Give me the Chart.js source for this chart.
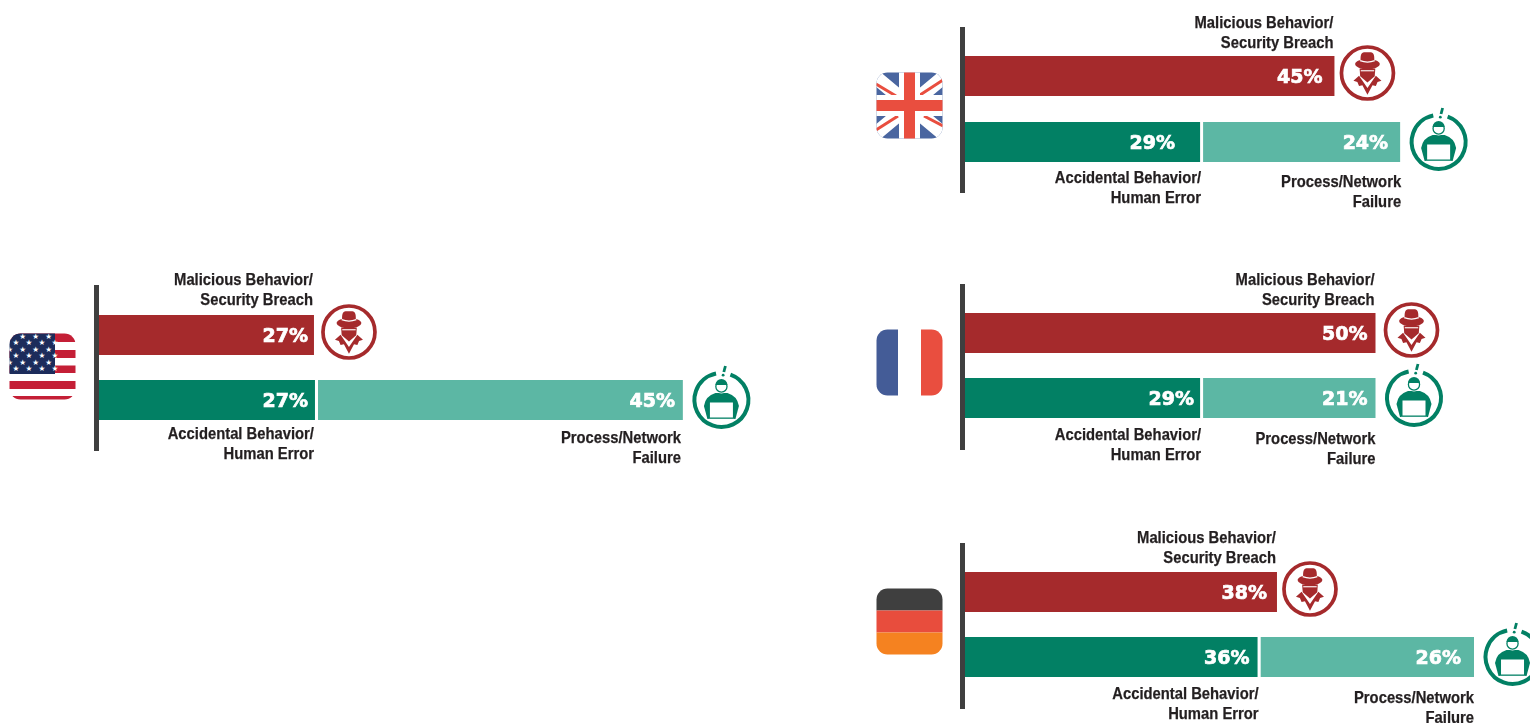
<!DOCTYPE html>
<html>
<head>
<meta charset="utf-8">
<title>Root cause of data breach by country</title>
<script src="https://cdn.jsdelivr.net/npm/chart.js@4"></script>
<style>
    html, body { margin: 0; padding: 0; background: #fff; overflow: hidden; width: 1530px; height: 723px; }
    #page { position: relative; width: 1530px; height: 723px; overflow: hidden; }
    canvas, svg { position: absolute; }
</style>
</head>
<body>
<div id="page"></div>
<script>
// Values
const countries = ['United States', 'United Kingdom', 'France', 'Germany'];
const categories = ['Malicious', 'Human and process'];
const maliciousValues = [27, 45, 50, 38];
const accidentalValues = [27, 29, 29, 36];
const processValues = [45, 24, 21, 26];
const maliciousLabel = ['Malicious Behavior/', 'Security Breach'];
const accidentalLabel = ['Accidental Behavior/', 'Human Error'];
const processLabel = ['Process/Network', 'Failure'];

// Where each panel sits on the page. The source graphic is hand placed, so
// the captions and percent labels do not sit at the same offset in each panel.
const panels = [
    { left: 84, top: 265, width: 680, axisMax: 72, pxPerUnit: 8.11, areaTop: 302.5, band: 65, axisTop: 285, axisBottom: 451, redInset: 4,
      malDy: -55, accDy: 14.5, procDy: 18, accDx: 1, procDx: 2, pctRed: 6, pctGreen: 7, pctLight: 8, spyDx: 35 },
    { left: 950, top: 7, width: 580, axisMax: 62, pxPerUnit: 8.21, areaTop: 43, band: 66, axisTop: 27, axisBottom: 193, redInset: 0,
      malDy: -53, accDy: 16.5, procDy: 20, accDx: -1, procDx: -1, pctRed: 12, pctGreen: 25, pctLight: 12, spyDx: 33 },
    { left: 950, top: 264, width: 580, axisMax: 62, pxPerUnit: 8.21, areaTop: 300.5, band: 65, axisTop: 284, axisBottom: 450, redInset: 0,
      malDy: -53, accDy: 17.5, procDy: 21, accDx: -1, procDx: 0, pctRed: 8, pctGreen: 6, pctLight: 8, spyDx: 36 },
    { left: 950, top: 523, width: 580, axisMax: 62, pxPerUnit: 8.21, areaTop: 559.5, band: 65, axisTop: 543, axisBottom: 709, redInset: 0,
      malDy: -53.5, accDy: 17.5, procDy: 21, accDx: -1, procDx: 0, pctRed: 10, pctGreen: 8, pctLight: 13, spyDx: 33 }
];

const RED = '#a52a2c';
const GREEN = '#028064';
const LIGHT = '#5cb7a4';
const AXIS = '#3f3f3f';
const TEXT = '#231f20';
const CANVAS_HEIGHT = 210;
const page = document.getElementById('page');

// ICONS, drawn around the end of each bar
function drawSpy(ctx, cx, cy) {
    ctx.save();
    ctx.translate(cx, cy);
    ctx.strokeStyle = RED;
    ctx.fillStyle = RED;
    ctx.lineWidth = 3.7;
    ctx.beginPath();
    ctx.arc(0, 0, 26, 0, Math.PI * 2);
    ctx.stroke();
    ctx.scale(1.12, 1.12);
    // hat
    ctx.beginPath();
    ctx.moveTo(-6, -10);
    ctx.bezierCurveTo(-7, -20, -3, -18.5, 0, -18.5);
    ctx.bezierCurveTo(3, -18.5, 7, -20, 6, -10);
    ctx.closePath();
    ctx.fill();
    ctx.beginPath();
    ctx.ellipse(0, -8, 11, 4.6, 0, 0, Math.PI * 2);
    ctx.fill();
    ctx.strokeStyle = '#fff';
    ctx.lineWidth = 1.1;
    ctx.beginPath();
    ctx.moveTo(-6.5, -11);
    ctx.quadraticCurveTo(0, -8.5, 6.5, -11);
    ctx.stroke();
    // face and mask
    ctx.beginPath();
    ctx.moveTo(-7, -4);
    ctx.lineTo(7, -4);
    ctx.lineTo(6.5, 3);
    ctx.lineTo(0, 8.5);
    ctx.lineTo(-6.5, 3);
    ctx.closePath();
    ctx.fill();
    ctx.lineWidth = 1;
    ctx.beginPath();
    ctx.moveTo(-6, -2);
    ctx.lineTo(6, -2);
    ctx.stroke();
    // coat
    ctx.beginPath();
    ctx.moveTo(-12.5, 7);
    ctx.lineTo(-7.5, 2.5);
    ctx.lineTo(0, 13.5);
    ctx.lineTo(7.5, 2.5);
    ctx.lineTo(12.5, 7);
    ctx.lineTo(9, 8);
    ctx.lineTo(7.5, 11.5);
    ctx.lineTo(4.5, 11);
    ctx.lineTo(0, 19.5);
    ctx.lineTo(-4.5, 11);
    ctx.lineTo(-7.5, 11.5);
    ctx.lineTo(-9, 8);
    ctx.closePath();
    ctx.fill();
    ctx.restore();
}

function drawWorker(ctx, cx, cy) {
    ctx.save();
    ctx.translate(cx, cy);
    ctx.strokeStyle = GREEN;
    ctx.fillStyle = GREEN;
    ctx.lineWidth = 4;
    // ring with a gap at the top for the exclamation mark
    ctx.beginPath();
    ctx.arc(0, 0, 27, -Math.PI / 2 + 0.34, -Math.PI / 2 - 0.2);
    ctx.stroke();
    // exclamation mark
    ctx.lineWidth = 2.8;
    ctx.beginPath();
    ctx.moveTo(4, -34);
    ctx.lineTo(2.4, -28);
    ctx.stroke();
    ctx.beginPath();
    ctx.arc(1.7, -24.8, 1.4, 0, Math.PI * 2);
    ctx.fill();
    // body
    ctx.beginPath();
    ctx.moveTo(-17.5, 6);
    ctx.quadraticCurveTo(-16, -4, -6, -7);
    ctx.lineTo(6, -7);
    ctx.quadraticCurveTo(16, -4, 17.5, 6);
    ctx.lineTo(14, 19);
    ctx.lineTo(-14, 19);
    ctx.closePath();
    ctx.fill();
    // head
    ctx.fillStyle = '#fff';
    ctx.beginPath();
    ctx.arc(0, -13.5, 7, 0, Math.PI * 2);
    ctx.fill();
    ctx.fillStyle = GREEN;
    ctx.lineWidth = 1.3;
    ctx.beginPath();
    ctx.arc(0, -13.5, 5.6, 0, Math.PI * 2);
    ctx.stroke();
    ctx.beginPath();
    ctx.arc(0, -15, 6, Math.PI, 0);
    ctx.fill();
    // laptop
    ctx.fillStyle = '#fff';
    ctx.fillRect(-11.5, 2.5, 23, 15);
    ctx.fillRect(-13, 18.8, 26, 2.2);
    ctx.restore();
}

function drawLabel(ctx, lines, x, firstCenterY) {
    ctx.save();
    ctx.font = 'bold 17px "Liberation Sans", sans-serif';
    ctx.fillStyle = TEXT;
    ctx.strokeStyle = TEXT;
    ctx.lineWidth = 0.25;
    ctx.textAlign = 'right';
    ctx.textBaseline = 'middle';
    ctx.translate(x, firstCenterY);
    // the source face is a condensed one, which is not installed here
    ctx.scale(0.87, 1);
    lines.forEach(function (line, i) {
        ctx.fillText(line, 0, i * 20);
        ctx.strokeText(line, 0, i * 20);
    });
    ctx.restore();
}

function drawPercent(ctx, value, x, y) {
    ctx.font = 'bold 19px "DejaVu Sans", sans-serif';
    ctx.fillStyle = '#fff';
    ctx.strokeStyle = '#fff';
    ctx.lineWidth = 0.7;
    ctx.textAlign = 'right';
    ctx.textBaseline = 'middle';
    ctx.fillText(value + '%', x, y);
    ctx.strokeText(value + '%', x, y);
}

// Axis rule, captions, percent labels and icons for one panel
const panelPlugin = {
    id: 'panelPlugin',
    beforeDatasetsDraw: function (chart) {
        const p = chart.options.plugins.panelPlugin;
        const ctx = chart.ctx;
        ctx.fillStyle = AXIS;
        ctx.fillRect(chart.chartArea.left - 5, p.axisTop - p.top, 5, p.axisBottom - p.axisTop);
    },
    afterDatasetsDraw: function (chart) {
        const p = chart.options.plugins.panelPlugin;
        const i = p.index;
        const ctx = chart.ctx;
        const x = chart.scales.x;
        const yTop = chart.scales.y.getPixelForValue(0);
        const yBottom = chart.scales.y.getPixelForValue(1);
        const redEnd = x.getPixelForValue(maliciousValues[i]) - p.redInset;
        const greenEnd = x.getPixelForValue(accidentalValues[i]) - 3;
        const lightEnd = x.getPixelForValue(accidentalValues[i] + processValues[i]);

        drawPercent(ctx, maliciousValues[i], redEnd - p.pctRed, yTop + 2);
        drawPercent(ctx, accidentalValues[i], greenEnd - p.pctGreen, yBottom + 2);
        drawPercent(ctx, processValues[i], lightEnd - p.pctLight, yBottom + 2);

        drawLabel(ctx, maliciousLabel, redEnd - 1, yTop + p.malDy);
        drawLabel(ctx, accidentalLabel, greenEnd - p.accDx, yBottom + 20 + p.accDy);
        drawLabel(ctx, processLabel, lightEnd - p.procDx, yBottom + 20 + p.procDy);

        drawSpy(ctx, redEnd + p.spyDx, yTop - 3);
        drawWorker(ctx, lightEnd + 38.5, yBottom);
    }
};

// CHARTS
countries.forEach(function (country, i) {
    const p = panels[i];
    const canvas = document.createElement('canvas');
    canvas.width = p.width;
    canvas.height = CANVAS_HEIGHT;
    canvas.style.left = p.left + 'px';
    canvas.style.top = p.top + 'px';
    canvas.setAttribute('aria-label', country);
    page.appendChild(canvas);

    const areaWidth = p.axisMax * p.pxPerUnit;
    new Chart(canvas, {
        type: 'bar',
        data: {
            labels: categories,
            datasets: [
                { label: 'Malicious Behavior/Security Breach', data: [maliciousValues[i], null], backgroundColor: RED,
                  borderColor: '#fff', borderWidth: { right: p.redInset }, inflateAmount: 0 },
                { label: 'Accidental Behavior/Human Error', data: [null, accidentalValues[i]], backgroundColor: GREEN,
                  borderColor: '#fff', borderWidth: { right: 3 }, inflateAmount: 0 },
                { label: 'Process/Network Failure', data: [null, processValues[i]], backgroundColor: LIGHT,
                  borderWidth: 0, inflateAmount: 0 }
            ]
        },
        options: {
            indexAxis: 'y',
            responsive: false,
            animation: false,
            barThickness: 40,
            layout: {
                padding: {
                    left: 15,
                    right: p.width - 15 - areaWidth,
                    top: p.areaTop - p.top,
                    bottom: CANVAS_HEIGHT - (p.areaTop - p.top) - 2 * p.band
                }
            },
            scales: {
                x: { display: false, stacked: true, min: 0, max: p.axisMax },
                y: { display: false, stacked: true }
            },
            plugins: {
                legend: { display: false },
                tooltip: { enabled: false },
                panelPlugin: Object.assign({ index: i }, p)
            }
        },
        plugins: [panelPlugin]
    });
});

// FLAGS
function addFlag(x, y, inner) {
    const id = 'clip' + Math.round(x) + Math.round(y);
    page.insertAdjacentHTML('beforeend',
        '<svg style="left:' + x + 'px;top:' + y + 'px" width="67" height="67" viewBox="0 0 67 67">' +
        '<clipPath id="' + id + '"><rect x="0.5" y="0.5" width="66" height="66" rx="11"/></clipPath>' +
        '<g clip-path="url(#' + id + ')">' + inner + '</g></svg>');
}

function usFlag() {
    let s = '<rect width="67" height="67" fill="#fff"/>';
    [[0, 9], [17, 8], [32.5, 7.5], [48, 8], [63, 4]].forEach(function (st) {
        s += '<rect y="' + st[0] + '" width="67" height="' + st[1] + '" fill="#c41f36"/>';
    });
    s += '<rect width="46" height="41" fill="#1c2c5b"/>';
    for (let row = 0; row < 6; row++) {
        for (let col = 0; col < 4; col++) {
            const sx = (row % 2 ? 7 : 0.7) + col * 13;
            const sy = 3 + row * 6.5;
            s += '<text x="' + sx + '" y="' + (sy + 2.6) + '" font-size="7.6" text-anchor="middle" fill="#fff" font-family="DejaVu Sans">\u2605</text>';
        }
    }
    return s;
}

addFlag(9, 333, usFlag());
addFlag(875.5, 72,
    '<rect width="67" height="67" fill="#4a66a0"/>' +
    '<path d="M-3,3 L70,64 M70,3 L-3,64" stroke="#fff" stroke-width="14"/>' +
    '<path d="M0,12 L20,24 M67,8 L44,23 M0,58 L22,44 M67,54 L48,44" stroke="#e94e3f" stroke-width="3"/>' +
    '<rect x="23" width="21" height="67" fill="#fff"/><rect y="23" width="67" height="21" fill="#fff"/>' +
    '<rect x="28" width="11" height="67" fill="#e94e3f"/><rect y="28" width="67" height="11" fill="#e94e3f"/>');
addFlag(875.5, 329,
    '<rect width="22" height="67" fill="#445c97"/><rect x="22" width="23" height="67" fill="#fff"/>' +
    '<rect x="45" width="22" height="67" fill="#e94e3f"/>');
addFlag(875.5, 587.5,
    '<rect width="67" height="22.5" fill="#3f3f3f"/><rect y="22.5" width="67" height="22" fill="#e84d3d"/>' +
    '<rect y="44.5" width="67" height="22.5" fill="#f58220"/>');
</script>
</body>
</html>
